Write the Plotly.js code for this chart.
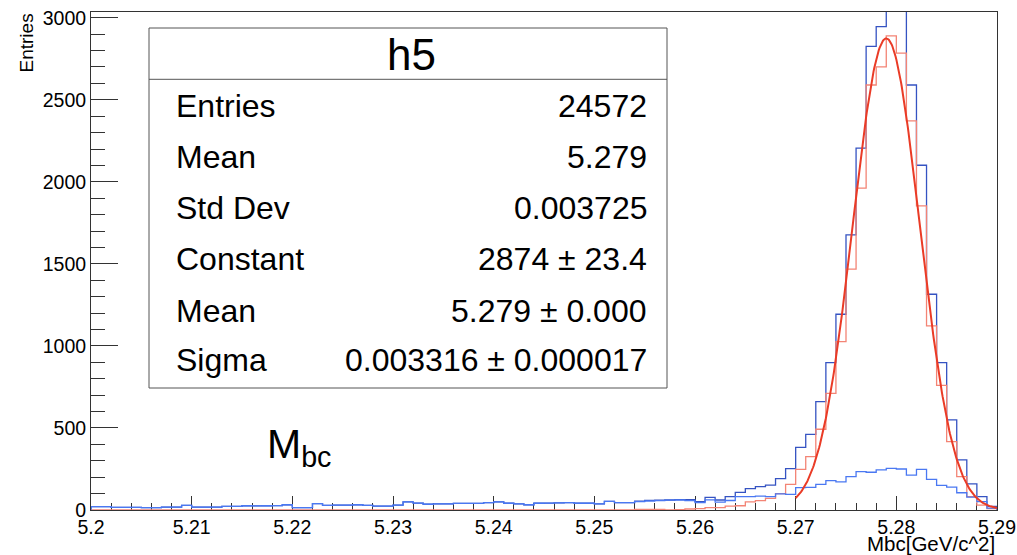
<!DOCTYPE html>
<html>
<head>
<meta charset="utf-8">
<script src="https://cdn.plot.ly/plotly-3.0.1.min.js"></script>
<style>
  html, body { margin: 0; padding: 0; background: #ffffff; }
  #chart { width: 1017px; height: 555px; }
</style>
</head>
<body>
<div id="chart"></div>
<script>
// Binning of the Mbc histograms (GeV/c^2)
const binLow = 5.2;
const binWidth = 0.001;
const nBins = 90;

// Total sample (signal + background), counts per bin
const totalCounts = [
  20, 21, 16, 16, 16, 14, 14, 18, 18, 28,
  18, 18, 18, 22, 22, 26, 25, 26, 27, 32,
  14, 15, 39, 28, 30, 30, 32, 28, 24, 24,
  30, 49, 42, 35, 37, 37, 40, 40, 40, 45,
  50, 41, 37, 32, 41, 42, 44, 45, 41, 41,
  37, 53, 45, 45, 54, 59, 60, 61, 63, 63,
  51, 77, 61, 81, 108, 130, 142, 152, 191, 252,
  382, 461, 661, 898, 1193, 1677, 2205, 2826, 2946, 3145,
  3050, 2590, 2101, 1315, 898, 549, 305, 159, 81, 22
];

// h5: signal component, counts per bin
const signalCounts = [
  0, 0, 0, 0, 0, 0, 0, 0, 0, 0,
  0, 0, 0, 0, 0, 0, 0, 0, 0, 0,
  0, 0, 0, 0, 0, 0, 0, 0, 0, 0,
  0, 0, 0, 0, 0, 0, 0, 0, 0, 0,
  0, 0, 0, 0, 0, 0, 0, 0, 0, 0,
  0, 0, 0, 0, 3, 4, 3, 1, 2, 6,
  8, 14, 14, 24, 26, 49, 57, 71, 100, 156,
  248, 325, 492, 711, 1026, 1468, 1962, 2590, 2701, 2890,
  2784, 2372, 1853, 1122, 760, 417, 203, 81, 30, 8
];

// Background component, counts per bin
const backgroundCounts = [
  20, 21, 16, 16, 16, 14, 14, 18, 18, 28,
  18, 18, 18, 22, 22, 26, 25, 26, 27, 32,
  14, 15, 39, 28, 30, 30, 32, 28, 24, 24,
  30, 49, 42, 35, 37, 37, 40, 40, 40, 45,
  50, 41, 37, 32, 41, 42, 44, 45, 41, 41,
  37, 53, 45, 45, 51, 55, 57, 60, 61, 57,
  45, 62, 48, 58, 81, 81, 85, 81, 98, 95,
  136, 138, 156, 179, 171, 203, 234, 230, 244, 254,
  250, 213, 248, 187, 150, 140, 105, 78, 51, 12
];

// Gaussian fit to h5
const fitConstant = 2874;
const fitMean = 5.279;
const fitSigma = 0.003316;
const fitRange = [5.27, 5.29];

// Statistics box entries
const statsTitle = "h5";
const statsLabels = ["Entries", "Mean", "Std Dev", "Constant", "Mean", "Sigma"];
const statsValues = ["24572", "5.279", "0.003725", "2874 \u00b1 23.4", "5.279 \u00b1 0.000", "0.003316 \u00b1 0.000017"];

// ---- layout geometry (pixels) ----
const W = 1017, H = 555;
const M = { l: 91, r: 20, t: 12, b: 45 };
const plotW = W - M.l - M.r;
const plotH = H - M.t - M.b;
const px = x => (x - M.l) / plotW;          // pixel -> paper x
const py = y => (H - M.b - y) / plotH;      // pixel -> paper y

const FONT = "Liberation Sans, Arial, Helvetica, sans-serif";

// Step outline of a histogram: closes down to zero at both ends
function stepTrace(counts, color, width, name) {
  const xs = [binLow], ys = [0];
  for (let i = 0; i < nBins; i++) {
    xs.push(binLow + i * binWidth);
    ys.push(counts[i]);
  }
  xs.push(binLow + nBins * binWidth);
  ys.push(0);
  return {
    type: "scatter", mode: "lines", x: xs, y: ys, name: name,
    line: { shape: "hv", color: color, width: width },
    hoverinfo: "skip", showlegend: false
  };
}

// Fit curve sampled across its range
const fitX = [], fitY = [];
for (let k = 0; k <= 300; k++) {
  const x = fitRange[0] + (fitRange[1] - fitRange[0]) * k / 300;
  fitX.push(x);
  fitY.push(fitConstant * Math.exp(-0.5 * Math.pow((x - fitMean) / fitSigma, 2)));
}

const traces = [
  stepTrace(totalCounts, "#3553c2", 1.3, "total"),
  stepTrace(signalCounts, "#f38475", 1.3, "h5"),
  stepTrace(backgroundCounts, "#4a78f2", 1.3, "background"),
  {
    type: "scatter", mode: "lines", x: fitX, y: fitY, name: "gaus",
    line: { color: "#ea3b26", width: 2 }, hoverinfo: "skip", showlegend: false
  }
];

// Statistics box
const box = { x0: 149, x1: 667, y0: 28, y1: 388, head: 79.3 };
const rowY = [105.5, 156.5, 208, 259, 310.5, 359.5];

const shapes = [
  { type: "rect", xref: "paper", yref: "paper",
    x0: px(box.x0), x1: px(box.x1), y0: py(box.y1), y1: py(box.y0),
    line: { color: "#555555", width: 1 }, fillcolor: "#ffffff", layer: "above" },
  { type: "line", xref: "paper", yref: "paper",
    x0: px(box.x0), x1: px(box.x1), y0: py(box.head), y1: py(box.head),
    line: { color: "#555555", width: 1 }, layer: "above" }
];

const annotations = [
  { text: statsTitle, xref: "paper", yref: "paper", x: px((box.x0 + box.x1) / 2 + 3), y: py(55),
    xanchor: "center", yanchor: "middle", showarrow: false,
    font: { family: FONT, size: 44, color: "#000" } },
  // y axis title, top aligned
  { text: "Entries", xref: "paper", yref: "paper", x: px(26), y: 1, textangle: -90,
    xanchor: "center", yanchor: "top", showarrow: false,
    font: { family: FONT, size: 19, color: "#000" } },
  // x axis title, right aligned
  { text: "Mbc[GeV/c^2]", xref: "paper", yref: "paper", x: 1, y: py(543.5),
    xanchor: "right", yanchor: "middle", showarrow: false,
    font: { family: FONT, size: 20.5, color: "#000" } },
  // variable label
  { text: "M<sub>bc</sub>", xref: "paper", yref: "paper", x: px(265), y: py(447),
    xanchor: "left", yanchor: "middle", showarrow: false,
    font: { family: FONT, size: 41, color: "#000" } }
];
statsLabels.forEach((lab, i) => {
  annotations.push({ text: lab, xref: "paper", yref: "paper", x: px(174), y: py(rowY[i]),
    xanchor: "left", yanchor: "middle", showarrow: false,
    font: { family: FONT, size: 32, color: "#000" } });
  annotations.push({ text: statsValues[i], xref: "paper", yref: "paper", x: px(649), y: py(rowY[i]),
    xanchor: "right", yanchor: "middle", showarrow: false,
    font: { family: FONT, size: 32, color: "#000" } });
});

const layout = {
  width: W, height: H,
  margin: M,
  paper_bgcolor: "#ffffff", plot_bgcolor: "#ffffff",
  font: { family: FONT, size: 20, color: "#000" },
  showlegend: false,
  xaxis: {
    range: [5.2, 5.29], tickmode: "linear", tick0: 5.2, dtick: 0.01,
    ticks: "inside", ticklen: 14, tickwidth: 1, tickcolor: "#333",
    minor: { dtick: 0.002, tick0: 5.2, ticks: "inside", ticklen: 7, tickwidth: 1, tickcolor: "#333", showgrid: false },
    showline: true, mirror: true, linecolor: "#333", linewidth: 1,
    showgrid: false, zeroline: false, layer: "below traces",
    tickfont: { family: FONT, size: 19.5, color: "#000" },
    fixedrange: true
  },
  yaxis: {
    range: [0, 3035], tickmode: "linear", tick0: 0, dtick: 500,
    ticks: "inside", ticklen: 27, tickwidth: 1, tickcolor: "#333",
    minor: { dtick: 100, tick0: 0, ticks: "inside", ticklen: 14, tickwidth: 1, tickcolor: "#333", showgrid: false },
    showline: true, mirror: true, linecolor: "#333", linewidth: 1,
    showgrid: false, zeroline: false, layer: "below traces",
    tickfont: { family: FONT, size: 19.5, color: "#000" },
    fixedrange: true
  },
  shapes: shapes,
  annotations: annotations
};

Plotly.newPlot("chart", traces, layout, { staticPlot: true, displayModeBar: false });
</script>
</body>
</html>
